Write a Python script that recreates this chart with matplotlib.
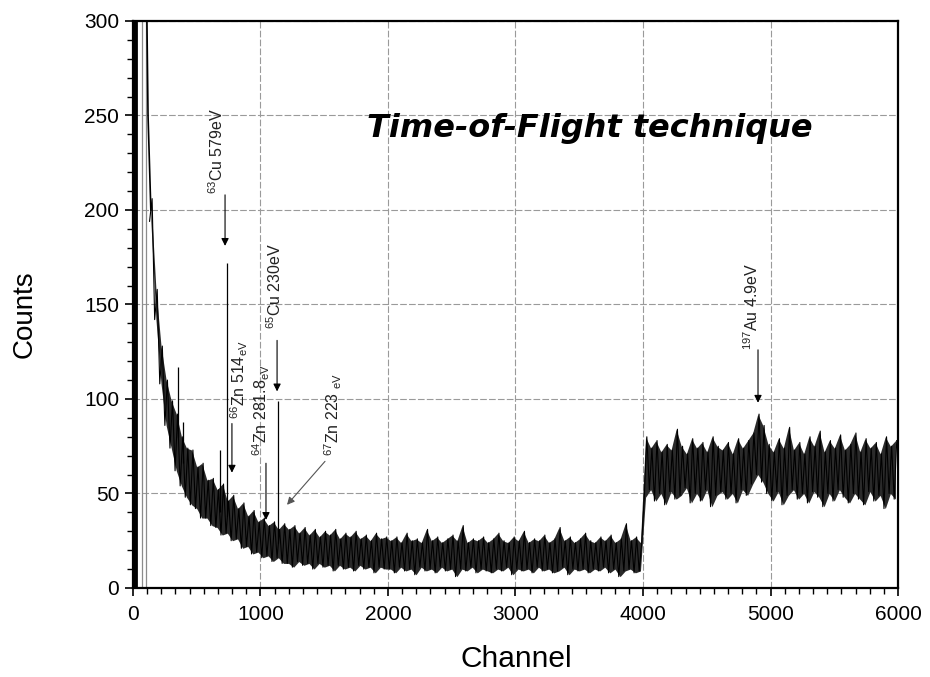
import matplotlib
matplotlib.use("Agg")
import matplotlib.pyplot as plt
import numpy as np
from matplotlib.ticker import MultipleLocator

plt.rcParams["font.family"] = ["Liberation Sans", "DejaVu Sans"]
plt.rcParams["mathtext.default"] = "regular"

# Spectrum: per 40-channel bin, the low / high extent of the noisy trace
channel = np.arange(140, 6000, 40)
counts_hi = [
    206, 158, 128, 110, 99, 92, 80, 74, 73, 64, 66, 57, 58, 52, 55, 46, 49, 42, 45, 38,
    41, 35, 37, 33, 35, 31, 34,
    31, 33, 29, 32, 28, 31, 27, 30, 28, 31, 26, 29, 27, 30, 26, 28, 25, 29, 26, 27,
    25, 27, 24, 29, 25, 26, 24, 31, 25, 27, 24, 26, 28, 25, 33, 24, 26, 25, 27, 24,
    26, 29, 25, 24, 27, 25, 30, 24, 26, 25, 28, 24, 26, 32, 25, 27, 24, 26, 29, 25,
    24, 27, 25, 28, 24, 26, 34, 25, 27, 24,
    80, 74, 78, 72, 76, 73, 84, 75, 71, 79, 74, 77, 72, 80, 75, 73, 77, 71, 79, 74,
    78, 82, 92, 86, 76, 72, 79, 74, 85, 73, 77, 71, 80, 75, 83, 72, 78, 74, 81, 73,
    76, 82, 72, 79, 74, 77, 71, 80, 75, 78,
]
counts_lo = [
    194, 142, 108, 86, 74, 62, 54, 48, 44, 42, 37, 37, 33, 32, 28, 29, 25, 26, 21, 22,
    18, 19, 16, 17, 14, 16, 13,
    13, 11, 14, 12, 13, 10, 13, 11, 12, 9, 12, 10, 11, 9, 12, 10, 11, 8, 11, 10,
    10, 8, 11, 9, 10, 7, 11, 9, 10, 8, 11, 9, 10, 6, 10, 9, 11, 8, 10, 9,
    8, 10, 9, 11, 7, 10, 9, 10, 8, 11, 9, 10, 8, 9, 11, 7, 10, 9, 10, 8,
    10, 9, 11, 8, 10, 6, 9, 10, 8, 9,
    48, 52, 46, 50, 44, 51, 47, 49, 53, 45, 50, 46, 52, 43, 49, 51, 47, 50, 45, 52,
    49, 55, 60, 56, 50, 46, 51, 44, 49, 52, 47, 50, 45, 51, 48, 43, 50, 46, 52, 48,
    45, 50, 47, 44, 51, 46, 49, 42, 50, 47,
]

# gamma flash near channel 0 (runs off the top), and the start of the decay
flash_ch = [10, 24, 68, 102]
flash_top = [330, 330, 330, 330]
lead_ch = [104, 118, 140]
lead_counts = [330, 250, 200]

# isolated narrow lines sticking out of the trace
spike_ch = [352, 392, 682, 735, 1137]
spike_base = [80, 66, 40, 38, 24]
spike_top = [117, 88, 73, 172, 99]

# resonance labels: arrow tip, arrow tail, text centre (channel, counts)
peak_labels = [r"$^{63}$Cu 579eV", r"$^{66}$Zn 514$_{eV}$", r"$^{64}$Zn 281.8$_{eV}$",
               r"$^{65}$Cu 230eV", r"$^{67}$Zn 223 $_{eV}$", r"$^{197}$Au 4.9eV"]
tip_ch = [722, 776, 1043, 1130, 1208, 4902]
tip_counts = [181, 61, 36, 104, 44, 98]
tail_ch = [722, 776, 1043, 1130, 1506, 4902]
tail_counts = [208, 87, 66, 131, 67, 126]
text_ch = [659, 832, 1006, 1114, 1569, 4855]
text_counts = [231, 110, 94, 160, 92, 149]

fig = plt.figure(figsize=(9.3, 6.77), dpi=100)
ax = fig.add_axes([0.143, 0.1315, 0.8226, 0.8375])

ax.set_xlim(0, 6000)
ax.set_ylim(0, 300)

ax.grid(True, which="major", color="#9a9a9a", linewidth=0.8, linestyle=(0, (6, 2)))
ax.set_axisbelow(True)

# trace: dark band between the low/high values of each bin, zig-zag on top for the noise
x = np.column_stack([channel - 10, channel + 10]).ravel()
y = np.column_stack([counts_lo, counts_hi]).ravel()
ax.fill_between(channel, counts_lo, counts_hi, color="#2a2a2a", linewidth=0)
ax.plot(x, y, color="black", linewidth=0.8)

ax.vlines(flash_ch[:2], 0, flash_top[:2], color="black", linewidth=2.0)
ax.vlines(flash_ch[2:], 0, flash_top[2:], color="#8c8c8c", linewidth=0.9)
ax.plot(lead_ch, lead_counts, color="black", linewidth=1.2)
ax.vlines(spike_ch, spike_base, spike_top, color="black", linewidth=0.9)

for lab, tx, ty, sx, sy, cx, cy in zip(peak_labels, tip_ch, tip_counts, tail_ch,
                                       tail_counts, text_ch, text_counts):
    diag = tx != sx
    ax.annotate("", xy=(tx, ty), xytext=(sx, sy),
                arrowprops=dict(arrowstyle="-|>", lw=0.8, mutation_scale=11,
                                color="#555555" if diag else "black",
                                shrinkA=0, shrinkB=0))
    ax.text(cx, cy, lab, rotation=90, ha="center", va="center", fontsize=11.5,
            color="#222222")

ax.text(3584, 243, "Time-of-Flight technique", ha="center", va="center",
        fontsize=23, fontweight="bold", fontstyle="italic", family="DejaVu Sans")

ax.xaxis.set_major_locator(MultipleLocator(1000))
ax.xaxis.set_minor_locator(MultipleLocator(1000 / 9))
ax.yaxis.set_major_locator(MultipleLocator(50))
ax.yaxis.set_minor_locator(MultipleLocator(10))
ax.tick_params(which="major", direction="out", length=6, width=1.2, labelsize=15,
               top=False, right=False)
ax.tick_params(which="minor", direction="out", length=4, width=1.0,
               top=False, right=False)
ax.tick_params(axis="x", pad=6)
ax.tick_params(axis="y", pad=4)
for s in ax.spines.values():
    s.set_linewidth(1.6)

ax.set_xlabel("Channel", fontsize=21.5, va="center")
ax.set_ylabel("Counts", fontsize=20, va="center")
ax.xaxis.set_label_coords(0.5007, -0.125)
ax.yaxis.set_label_coords(-0.141, 0.483)

fig.savefig("out.png", dpi=100)
